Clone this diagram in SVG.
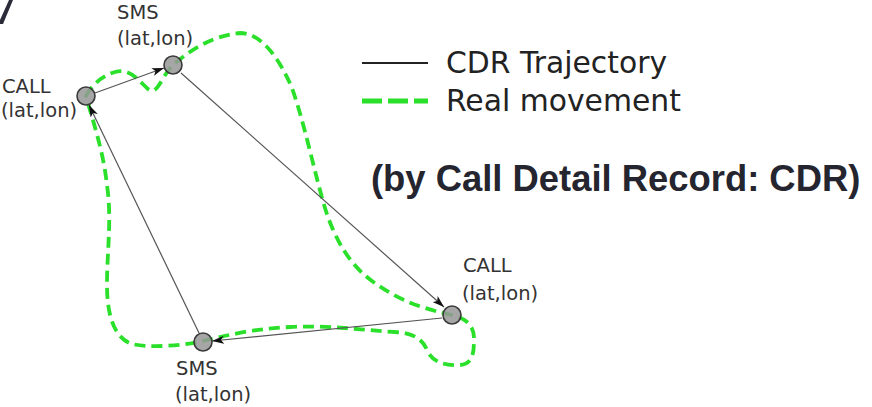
<svg xmlns="http://www.w3.org/2000/svg" width="872" height="407" viewBox="0 0 872 407">
<style>
.lbl{font-family:"DejaVu Sans",sans-serif;font-size:19.5px;fill:#333}
.leg{font-family:"DejaVu Sans",sans-serif;font-size:29.8px;fill:#222}
.ttl{font-family:"Liberation Sans",Arial,sans-serif;font-size:36.4px;font-weight:bold;fill:#25252f}
.node{fill:#969696;fill-opacity:0.85;stroke:#3a3a3a;stroke-width:1.6}
.conn{stroke:#555;stroke-width:1.2;fill:none;marker-end:url(#arr)}
.real{stroke:#2be02b;stroke-width:3.8;fill:none;stroke-dasharray:11 6}
</style>
<defs>
<marker id="arr" viewBox="0 0 12 8" refX="12" refY="4" markerWidth="12" markerHeight="8" markerUnits="userSpaceOnUse" orient="auto">
<path d="M0,0 L12,4 L0,8 L3,4 Z" fill="#111"/>
</marker>
</defs>
<rect width="872" height="407" fill="#fff"/>
<path d="M9,0 L13,0 L3,24 L0,24 L0,20 Z" fill="#2a2a38"/>
<path class="real" d="M86,96 C90,88 100,76 115,72 C130,68 138,80 148,89 C158,96 160,78 173,65 C188,52 210,36 240,33 C262,33 280,60 292,88 C305,125 315,175 325,208 C335,240 350,265 372,281 C392,295 410,306 452,315 C466,318 474,326 474,338 C474,350 474,364 460,365 C445,366 432,362 427,350 C422,338 412,333 395,332 C360,330 330,325 290,327 C250,329 225,336 203,341 C180,346 150,348 132,344 C114,338 107,315 107,285 C107,250 112,220 107,185 C103,150 94,125 86,96 Z"/>
<g id="connectors">
<line class="conn" x1="95" y1="93" x2="164" y2="68"/>
<line class="conn" x1="181" y1="73" x2="444" y2="307"/>
<line class="conn" x1="442" y1="318" x2="212" y2="341"/>
<line class="conn" x1="199" y1="333" x2="89" y2="105"/>
</g>
<g id="call1">
<circle class="node" cx="86" cy="96" r="9"/>
<text class="lbl" x="2" y="93">CALL</text>
<text class="lbl" x="1" y="117">(lat,lon)</text>
</g>
<g id="sms1">
<circle class="node" cx="173" cy="65" r="9"/>
<text class="lbl" x="117" y="19">SMS</text>
<text class="lbl" x="117" y="45">(lat,lon)</text>
</g>
<g id="call2">
<circle class="node" cx="452" cy="315" r="9"/>
<text class="lbl" x="463" y="272">CALL</text>
<text class="lbl" x="462" y="300">(lat,lon)</text>
</g>
<g id="sms2">
<circle class="node" cx="203" cy="342" r="9"/>
<text class="lbl" x="176" y="375">SMS</text>
<text class="lbl" x="175" y="401">(lat,lon)</text>
</g>
<g id="legend">
<line x1="362" y1="63" x2="428" y2="63" stroke="#222" stroke-width="2"/>
<text class="leg" x="446" y="73">CDR Trajectory</text>
<line x1="362" y1="101" x2="428" y2="101" stroke="#2be02b" stroke-width="5" stroke-dasharray="20 6"/>
<text class="leg" x="446" y="111">Real movement</text>
</g>
<text id="title" class="ttl" x="371" y="191">(by Call Detail Record: CDR)</text>
</svg>
